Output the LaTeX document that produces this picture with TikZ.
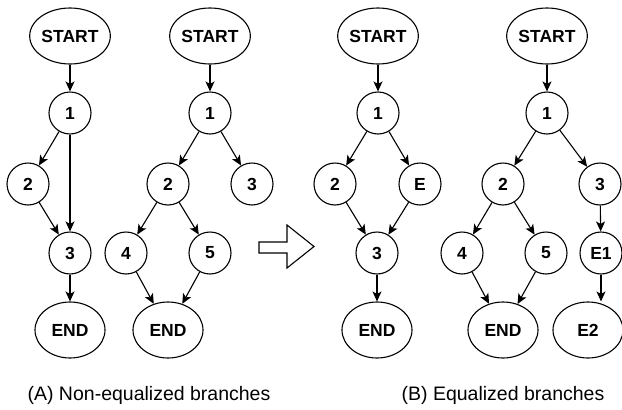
\documentclass[tikz,border=0pt]{standalone}
\usepackage{fontspec}
\setmainfont{Liberation Sans}
\usetikzlibrary{arrows.meta,shapes.geometric}
\begin{document}
\begin{tikzpicture}[x=1pt,y=-1pt,
  every node/.style={line width=1.1pt},
  blk/.style={draw,circle,minimum size=42pt,inner sep=0pt,font=\fontsize{17.5}{18}\selectfont\bfseries},
  term/.style={draw,ellipse,minimum width=70pt,minimum height=56pt,inner sep=0pt,font=\fontsize{17.5}{18}\selectfont\bfseries},
  flow/.style={line width=1.1pt,-{Stealth[length=10pt,width=9pt,inset=2.5pt]}},
  caption/.style={font=\fontsize{19.5}{20}\selectfont}]
\useasboundingbox (0,0) rectangle (622,410);

% (A) left graph
\node[term] (as) at (70,36) {START};
\node[blk] (a1) at (70,113) {1};
\node[blk] (a2) at (28,184) {2};
\node[blk] (a3) at (70,253) {3};
\node[term] (ae) at (70,330) {END};
\draw[flow] (as) -- (a1);
\draw[flow] (a1) -- (a2);
\draw[flow] (a1) -- (a3);
\draw[flow] (a2) -- (a3);
\draw[flow] (a3) -- (ae);

% (A) right graph
\node[term] (bs) at (210,36) {START};
\node[blk] (b1) at (210,113) {1};
\node[blk] (b2) at (168,184) {2};
\node[blk] (b3) at (252,184) {3};
\node[blk] (b4) at (126,253) {4};
\node[blk] (b5) at (210,253) {5};
\node[term] (be) at (168,330) {END};
\draw[flow] (bs) -- (b1);
\draw[flow] (b1) -- (b2);
\draw[flow] (b1) -- (b3);
\draw[flow] (b2) -- (b4);
\draw[flow] (b2) -- (b5);
\draw[flow] (b4) -- (be);
\draw[flow] (b5) -- (be);

% hollow transformation arrow
\draw[line width=1.1pt,line join=miter] (259,242) -- (287,242) -- (287,225) -- (314,246.5)
  -- (287,268) -- (287,253) -- (259,253) -- cycle;

% (B) left graph
\node[term] (cs) at (378,36) {START};
\node[blk] (c1) at (378,113) {1};
\node[blk] (c2) at (335,184) {2};
\node[blk] (cE) at (420,184) {E};
\node[blk] (c3) at (377,253) {3};
\node[term] (ce) at (377,330) {END};
\draw[flow] (cs) -- (c1);
\draw[flow] (c1) -- (c2);
\draw[flow] (c1) -- (cE);
\draw[flow] (c2) -- (c3);
\draw[flow] (cE) -- (c3);
\draw[flow] (c3) -- (ce);

% (B) right graph
\node[term] (ds) at (547,36) {START};
\node[blk] (d1) at (547,113) {1};
\node[blk] (d2) at (503,184) {2};
\node[blk] (d3) at (600,184) {3};
\node[blk] (d4) at (462,253) {4};
\node[blk] (d5) at (546,253) {5};
\node[blk] (dE1) at (601,253) {E1};
\node[term] (de) at (503,330) {END};
\node[term] (dE2) at (588,330) {E2};
\draw[flow] (ds) -- (d1);
\draw[flow] (d1) -- (d2);
\draw[flow] (d1) -- (d3);
\draw[flow] (d2) -- (d4);
\draw[flow] (d2) -- (d5);
\draw[flow] (d3) -- (dE1);
\draw[flow] (d4) -- (de);
\draw[flow] (d5) -- (de);
\draw[flow] (dE1.south) -- (dE1.south |- dE2.north);

% captions
\node[caption] (capA) at (149,395) {(A) Non-equalized branches};
\node[caption] (capB) at (503,395) {(B) Equalized branches};
\end{tikzpicture}
\end{document}
